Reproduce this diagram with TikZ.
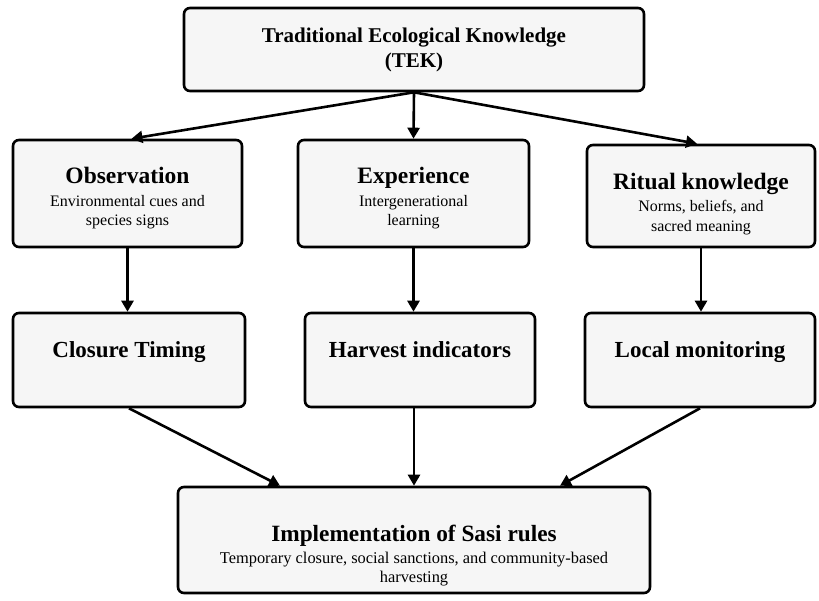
\documentclass[tikz,border=0pt]{standalone}
\usepackage{fontspec}
\setmainfont{Liberation Serif}
\usetikzlibrary{arrows.meta,calc}
\definecolor{boxgray}{HTML}{F6F6F6}
\newcommand{\ttlfont}{\fontsize{23.5}{26}\selectfont\bfseries}
\newcommand{\subfont}{\fontsize{16}{19.5}\selectfont}
\newcommand{\midfont}{\fontsize{23}{26}\selectfont\bfseries}
\tikzset{
  box/.style={draw=black, line width=2.6pt, rounded corners=6pt, fill=boxgray, inner sep=0pt},
  txt/.style={align=center, inner sep=0pt},
  conn/.style={line width=2.6pt, -{Triangle[length=11pt,width=12pt]}},
}
\begin{document}
\begin{tikzpicture}[x=1pt,y=-1pt]
\useasboundingbox (0,0) rectangle (819,600);
% boxes
\node[box, minimum width=460pt, minimum height=83pt] (tek) at (414,49.5) {};
\node[box, minimum width=229pt, minimum height=107pt] (obs) at (127.5,193.5) {};
\node[box, minimum width=231pt, minimum height=107pt] (exp) at (413.5,193.5) {};
\node[box, minimum width=228pt, minimum height=102pt] (rit) at (701,196) {};
\node[box, minimum width=232pt, minimum height=94pt] (clos) at (129,360) {};
\node[box, minimum width=230pt, minimum height=94pt] (harv) at (420,360) {};
\node[box, minimum width=230pt, minimum height=94pt] (loc) at (700,360) {};
\node[box, minimum width=472pt, minimum height=106pt] (impl) at (414,540) {};
% texts
\node[txt, font=\fontsize{21}{25}\selectfont\bfseries] (tekt) at (tek.center) {Traditional Ecological Knowledge\\(TEK)};
\node[txt, font=\subfont] (obst) at ([yshift=-5pt]obs.center) {{\ttlfont Observation}\\[3pt]Environmental cues and\\species signs};
\node[txt, font=\subfont] (expt) at ([yshift=-5pt]exp.center) {{\ttlfont Experience}\\[3pt]Intergenerational\\learning};
\node[txt, font=\subfont] (ritt) at ([yshift=-8pt]rit.center) {{\ttlfont Ritual knowledge}\\[3pt]Norms, beliefs, and\\sacred meaning};
\node[txt, font=\midfont, anchor=base] (clost) at ([yshift=3pt]clos.center) {Closure Timing};
\node[txt, font=\midfont, anchor=base] (harvt) at ([yshift=3pt]harv.center) {Harvest indicators};
\node[txt, font=\midfont, anchor=base] (loct) at ([yshift=3pt]loc.center) {Local monitoring};
\node[txt, font=\fontsize{16.4}{19.5}\selectfont] (implt) at ([yshift=-16pt]impl.center) {{\fontsize{23.3}{26}\selectfont\bfseries Implementation of Sasi rules}\\[2pt]Temporary closure, social sanctions, and community-based\\harvesting};
% connectors
\draw[conn] (tek.south) -- ([xshift=4pt]obs.north);
\draw[conn] (tek.south) -- (exp.north);
\draw[conn] (tek.south) -- ([xshift=-4pt]rit.north);
\draw[conn] (obs.south) -- (obs.south |- clos.north);
\draw[conn] (exp.south) -- (exp.south |- harv.north);
\draw[conn] (rit.south) -- (rit.south |- loc.north);
\draw[conn] (clos.south) -- ([xshift=-134pt]impl.north);
\draw[conn] (impl.north |- harv.south) -- (impl.north);
\draw[conn] (loc.south) -- ([xshift=146pt]impl.north);
\end{tikzpicture}
\end{document}
